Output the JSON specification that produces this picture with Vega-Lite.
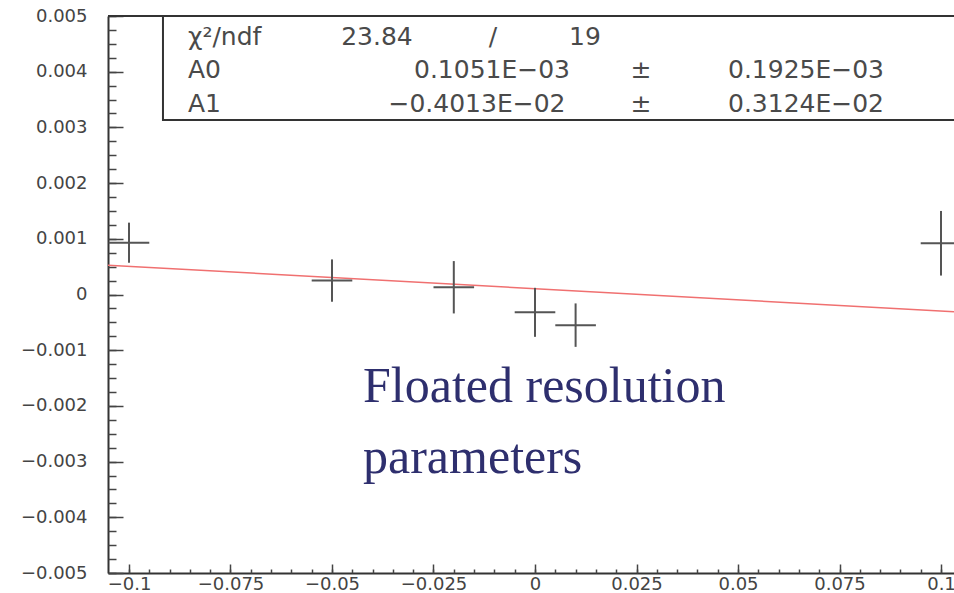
{
  "$schema": "https://vega.github.io/schema/vega-lite/v6.json",
  "width": 846,
  "height": 557,
  "autosize": {"type": "none"},
  "padding": {"left": 108, "top": 16, "right": 0, "bottom": 20},
  "background": "white",
  "config": {
    "view": {"stroke": null},
    "axis": {"labelFont": "DejaVu Sans", "labelFontSize": 18, "labelColor": "#444", "domainColor": "#333", "tickColor": "#444", "grid": false, "labelFlush": false, "labelOverlap": false, "labelBound": false, "title": null}
  },
  "datasets": {
    "points": [
      {"x": -0.1, "y": 0.00093, "ylo": 0.00057, "yhi": 0.00129, "xlo": -0.105, "xhi": -0.095},
      {"x": -0.05, "y": 0.00025, "ylo": -0.00013, "yhi": 0.00063, "xlo": -0.055, "xhi": -0.045},
      {"x": -0.02, "y": 0.00013, "ylo": -0.00034, "yhi": 0.0006, "xlo": -0.025, "xhi": -0.015},
      {"x": 0.0, "y": -0.00032, "ylo": -0.00076, "yhi": 0.00012, "xlo": -0.005, "xhi": 0.005},
      {"x": 0.01, "y": -0.00055, "ylo": -0.00094, "yhi": -0.00016, "xlo": 0.005, "xhi": 0.015},
      {"x": 0.1, "y": 0.00092, "ylo": 0.00034, "yhi": 0.0015, "xlo": 0.095, "xhi": 0.105}
    ],
    "fit": [
      {"x": -0.10517, "y": 0.000527},
      {"x": 0.1032, "y": -0.000309}
    ]
  },
  "layer": [
    {
      "data": {"values": [{}]},
      "mark": {"type": "rect", "fill": "white", "stroke": "#333", "strokeWidth": 2, "clip": true},
      "encoding": {
        "x": {"datum": -0.09163, "type": "quantitative", "scale": {"domain": [-0.10517, 0.1032], "nice": false, "zero": false}, "axis": null},
        "x2": {"datum": 0.115},
        "y": {"datum": 0.005, "type": "quantitative", "scale": {"domain": [-0.005, 0.005], "nice": false, "zero": false}, "axis": null},
        "y2": {"datum": 0.003133}
      }
    },
    {
      "data": {"values": [{}]},
      "mark": {"type": "rule", "color": "#333", "strokeWidth": 2},
      "encoding": {
        "y": {"datum": 0.005, "type": "quantitative", "scale": {"domain": [-0.005, 0.005], "nice": false, "zero": false}, "axis": null}
      }
    },
    {
      "data": {"name": "fit"},
      "mark": {"type": "line", "color": "#f07070", "strokeWidth": 1.5, "clip": true},
      "encoding": {
        "x": {"field": "x", "type": "quantitative", "scale": {"domain": [-0.10517, 0.1032], "nice": false, "zero": false},
          "axis": {"orient": "bottom", "values": [-0.1, -0.075, -0.05, -0.025, 0, 0.025, 0.05, 0.075, 0.1], "format": ".3~f", "ticks": false, "labelPadding": 2, "domainWidth": 2}},
        "y": {"field": "y", "type": "quantitative", "scale": {"domain": [-0.005, 0.005], "nice": false, "zero": false},
          "axis": {"orient": "left", "values": [-0.005, -0.004, -0.003, -0.002, -0.001, 0, 0.001, 0.002, 0.003, 0.004, 0.005], "format": ".3~f", "ticks": false, "labelPadding": 21, "domainWidth": 2}}
      }
    },
    {
      "data": {"name": "points"},
      "mark": {"type": "rule", "color": "#555", "strokeWidth": 2},
      "encoding": {
        "x": {"field": "x", "type": "quantitative", "scale": {"domain": [-0.10517, 0.1032], "nice": false, "zero": false},
          "axis": {"orient": "bottom", "values": [-0.1, -0.075, -0.05, -0.025, 0, 0.025, 0.05, 0.075, 0.1], "labels": false, "domain": false, "tickSize": -9, "tickWidth": 1.5}},
        "y": {"field": "ylo", "type": "quantitative", "scale": {"domain": [-0.005, 0.005], "nice": false, "zero": false},
          "axis": {"orient": "left", "values": [-0.005, -0.004, -0.003, -0.002, -0.001, 0, 0.001, 0.002, 0.003, 0.004, 0.005], "labels": false, "domain": false, "tickSize": -15, "tickWidth": 1.5}},
        "y2": {"field": "yhi"}
      }
    },
    {
      "data": {"name": "points"},
      "mark": {"type": "rule", "color": "#555", "strokeWidth": 2, "clip": true},
      "encoding": {
        "x": {"field": "xlo", "type": "quantitative", "scale": {"domain": [-0.10517, 0.1032], "nice": false, "zero": false},
          "axis": {"orient": "bottom", "values": [-0.1,-0.095,-0.09,-0.085,-0.08,-0.075,-0.07,-0.065,-0.06,-0.055,-0.05,-0.045,-0.04,-0.035,-0.03,-0.025,-0.02,-0.015,-0.01,-0.005,0,0.005,0.01,0.015,0.02,0.025,0.03,0.035,0.04,0.045,0.05,0.055,0.06,0.065,0.07,0.075,0.08,0.085,0.09,0.095,0.1], "labels": false, "domain": false, "tickSize": -4, "tickWidth": 1.5}},
        "x2": {"field": "xhi"},
        "y": {"field": "y", "type": "quantitative", "scale": {"domain": [-0.005, 0.005], "nice": false, "zero": false},
          "axis": {"orient": "left", "values": [-0.005,-0.00475,-0.0045,-0.00425,-0.004,-0.00375,-0.0035,-0.00325,-0.003,-0.00275,-0.0025,-0.00225,-0.002,-0.00175,-0.0015,-0.00125,-0.001,-0.00075,-0.0005,-0.00025,0,0.00025,0.0005,0.00075,0.001,0.00125,0.0015,0.00175,0.002,0.00225,0.0025,0.00275,0.003,0.00325,0.0035,0.00375,0.004,0.00425,0.0045,0.00475,0.005], "labels": false, "domain": false, "tickSize": -8, "tickWidth": 1.5}}
      }
    },
    {
      "data": {"values": [{"t": "χ²/ndf"}]},
      "mark": {"type": "text", "font": "DejaVu Sans", "fontSize": 25, "color": "#4a4a4a", "align": "left", "baseline": "middle"},
      "encoding": {"text": {"field": "t"}, "x": {"datum": -0.08547, "type": "quantitative", "scale": {"domain": [-0.10517, 0.1032], "nice": false, "zero": false}, "axis": null}, "y": {"datum": 0.004623, "type": "quantitative", "scale": {"domain": [-0.005, 0.005], "nice": false, "zero": false}, "axis": null}}
    },
    {
      "data": {"values": [{"t": "23.84"}]},
      "mark": {"type": "text", "font": "DejaVu Sans", "fontSize": 25, "color": "#4a4a4a", "align": "center", "baseline": "middle"},
      "encoding": {"text": {"field": "t"}, "x": {"datum": -0.03892, "type": "quantitative", "scale": {"domain": [-0.10517, 0.1032], "nice": false, "zero": false}, "axis": null}, "y": {"datum": 0.004623, "type": "quantitative", "scale": {"domain": [-0.005, 0.005], "nice": false, "zero": false}, "axis": null}}
    },
    {
      "data": {"values": [{"t": "/"}]},
      "mark": {"type": "text", "font": "DejaVu Sans", "fontSize": 25, "color": "#4a4a4a", "align": "center", "baseline": "middle"},
      "encoding": {"text": {"field": "t"}, "x": {"datum": -0.01034, "type": "quantitative", "scale": {"domain": [-0.10517, 0.1032], "nice": false, "zero": false}, "axis": null}, "y": {"datum": 0.004623, "type": "quantitative", "scale": {"domain": [-0.005, 0.005], "nice": false, "zero": false}, "axis": null}}
    },
    {
      "data": {"values": [{"t": "19"}]},
      "mark": {"type": "text", "font": "DejaVu Sans", "fontSize": 25, "color": "#4a4a4a", "align": "center", "baseline": "middle"},
      "encoding": {"text": {"field": "t"}, "x": {"datum": 0.01232, "type": "quantitative", "scale": {"domain": [-0.10517, 0.1032], "nice": false, "zero": false}, "axis": null}, "y": {"datum": 0.004623, "type": "quantitative", "scale": {"domain": [-0.005, 0.005], "nice": false, "zero": false}, "axis": null}}
    },
    {
      "data": {"values": [{"t": "A0"}]},
      "mark": {"type": "text", "font": "DejaVu Sans", "fontSize": 25, "color": "#4a4a4a", "align": "left", "baseline": "middle"},
      "encoding": {"text": {"field": "t"}, "x": {"datum": -0.08547, "type": "quantitative", "scale": {"domain": [-0.10517, 0.1032], "nice": false, "zero": false}, "axis": null}, "y": {"datum": 0.004031, "type": "quantitative", "scale": {"domain": [-0.005, 0.005], "nice": false, "zero": false}, "axis": null}}
    },
    {
      "data": {"values": [{"t": "0.1051E−03"}]},
      "mark": {"type": "text", "font": "DejaVu Sans", "fontSize": 25, "color": "#4a4a4a", "align": "center", "baseline": "middle"},
      "encoding": {"text": {"field": "t"}, "x": {"datum": -0.01059, "type": "quantitative", "scale": {"domain": [-0.10517, 0.1032], "nice": false, "zero": false}, "axis": null}, "y": {"datum": 0.004031, "type": "quantitative", "scale": {"domain": [-0.005, 0.005], "nice": false, "zero": false}, "axis": null}}
    },
    {
      "data": {"values": [{"t": "±"}]},
      "mark": {"type": "text", "font": "DejaVu Sans", "fontSize": 25, "color": "#4a4a4a", "align": "center", "baseline": "middle"},
      "encoding": {"text": {"field": "t"}, "x": {"datum": 0.02611, "type": "quantitative", "scale": {"domain": [-0.10517, 0.1032], "nice": false, "zero": false}, "axis": null}, "y": {"datum": 0.004031, "type": "quantitative", "scale": {"domain": [-0.005, 0.005], "nice": false, "zero": false}, "axis": null}}
    },
    {
      "data": {"values": [{"t": "0.1925E−03"}]},
      "mark": {"type": "text", "font": "DejaVu Sans", "fontSize": 25, "color": "#4a4a4a", "align": "center", "baseline": "middle"},
      "encoding": {"text": {"field": "t"}, "x": {"datum": 0.06675, "type": "quantitative", "scale": {"domain": [-0.10517, 0.1032], "nice": false, "zero": false}, "axis": null}, "y": {"datum": 0.004031, "type": "quantitative", "scale": {"domain": [-0.005, 0.005], "nice": false, "zero": false}, "axis": null}}
    },
    {
      "data": {"values": [{"t": "A1"}]},
      "mark": {"type": "text", "font": "DejaVu Sans", "fontSize": 25, "color": "#4a4a4a", "align": "left", "baseline": "middle"},
      "encoding": {"text": {"field": "t"}, "x": {"datum": -0.08547, "type": "quantitative", "scale": {"domain": [-0.10517, 0.1032], "nice": false, "zero": false}, "axis": null}, "y": {"datum": 0.00342, "type": "quantitative", "scale": {"domain": [-0.005, 0.005], "nice": false, "zero": false}, "axis": null}}
    },
    {
      "data": {"values": [{"t": "−0.4013E−02"}]},
      "mark": {"type": "text", "font": "DejaVu Sans", "fontSize": 25, "color": "#4a4a4a", "align": "center", "baseline": "middle"},
      "encoding": {"text": {"field": "t"}, "x": {"datum": -0.01429, "type": "quantitative", "scale": {"domain": [-0.10517, 0.1032], "nice": false, "zero": false}, "axis": null}, "y": {"datum": 0.00342, "type": "quantitative", "scale": {"domain": [-0.005, 0.005], "nice": false, "zero": false}, "axis": null}}
    },
    {
      "data": {"values": [{"t": "±"}]},
      "mark": {"type": "text", "font": "DejaVu Sans", "fontSize": 25, "color": "#4a4a4a", "align": "center", "baseline": "middle"},
      "encoding": {"text": {"field": "t"}, "x": {"datum": 0.02611, "type": "quantitative", "scale": {"domain": [-0.10517, 0.1032], "nice": false, "zero": false}, "axis": null}, "y": {"datum": 0.00342, "type": "quantitative", "scale": {"domain": [-0.005, 0.005], "nice": false, "zero": false}, "axis": null}}
    },
    {
      "data": {"values": [{"t": "0.3124E−02"}]},
      "mark": {"type": "text", "font": "DejaVu Sans", "fontSize": 25, "color": "#4a4a4a", "align": "center", "baseline": "middle"},
      "encoding": {"text": {"field": "t"}, "x": {"datum": 0.06675, "type": "quantitative", "scale": {"domain": [-0.10517, 0.1032], "nice": false, "zero": false}, "axis": null}, "y": {"datum": 0.00342, "type": "quantitative", "scale": {"domain": [-0.005, 0.005], "nice": false, "zero": false}, "axis": null}}
    },
    {
      "data": {"values": [{"t": "Floated resolution"}]},
      "mark": {"type": "text", "font": "Liberation Serif", "fontSize": 50, "color": "#2e2f6e", "align": "left", "baseline": "alphabetic"},
      "encoding": {"text": {"field": "t"}, "x": {"datum": -0.04236, "type": "quantitative", "scale": {"domain": [-0.10517, 0.1032], "nice": false, "zero": false}, "axis": null}, "y": {"datum": -0.00193, "type": "quantitative", "scale": {"domain": [-0.005, 0.005], "nice": false, "zero": false}, "axis": null}}
    },
    {
      "data": {"values": [{"t": "parameters"}]},
      "mark": {"type": "text", "font": "Liberation Serif", "fontSize": 50, "color": "#2e2f6e", "align": "left", "baseline": "alphabetic"},
      "encoding": {"text": {"field": "t"}, "x": {"datum": -0.04236, "type": "quantitative", "scale": {"domain": [-0.10517, 0.1032], "nice": false, "zero": false}, "axis": null}, "y": {"datum": -0.0032, "type": "quantitative", "scale": {"domain": [-0.005, 0.005], "nice": false, "zero": false}, "axis": null}}
    }
  ],
  "resolve": {"axis": {"x": "independent", "y": "independent"}}
}
